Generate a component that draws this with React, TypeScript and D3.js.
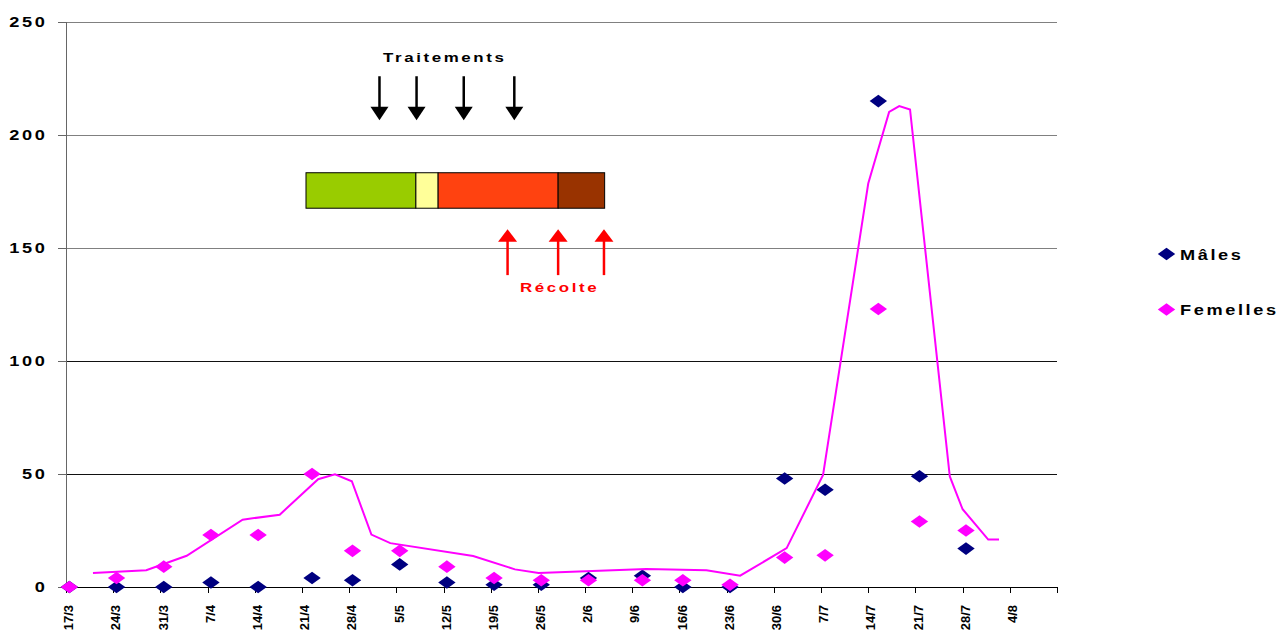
import React, { useEffect, useRef } from 'react';
import * as d3 from 'd3';

// week labels on the date axis (one tick per week from 17/3)
const weekLabels = ['17/3', '24/3', '31/3', '7/4', '14/4', '21/4', '28/4', '5/5', '12/5', '19/5', '26/5',
  '2/6', '9/6', '16/6', '23/6', '30/6', '7/7', '14/7', '21/7', '28/7', '4/8'];

// sampling dates, in days after 17/3
const sampleDays = [0.5, 7.5, 14.5, 21.5, 28.5, 36.5, 42.5, 49.5, 56.5, 63.5, 70.5, 77.5, 85.5, 91.5, 98.5,
  106.6, 112.6, 120.5, 126.6, 133.5];
const males = [0, 0, 0, 2, 0, 4, 3, 10, 2, 1, 1, 4, 5, 0, 0, 48, 43, 215, 49, 17];
const females = [0, 4, 9, 23, 23, 50, 16, 16, 9, 4, 3, 3, 3, 3, 1, 13, 14, 123, 29, 25];

// smoothed curve (days, value)
const trendDays = [4, 11.9, 17.9, 26.2, 31.7, 37.4, 39.9, 42.4, 45.3, 48.1, 60.4, 66.6, 70.1, 86.1, 95, 100,
  106.9, 112.3, 119, 122.1, 123.6, 125.2, 131.1, 133, 136.8, 138.4];
const trendValues = [6.2, 7.4, 13.8, 29.8, 32, 47.7, 49.9, 46.8, 23.2, 19.4, 13.7, 7.8, 6.2, 8, 7.4, 5,
  17.2, 49.6, 178.5, 210.2, 212.8, 211.3, 48.9, 34.4, 21, 21];

const yTicks = [0, 50, 100, 150, 200, 250];

// annotations
const treatmentDays = [46.5, 52, 59, 66.5];
const harvestDays = [65.5, 73, 79.8];
const stageBounds = [35.6, 51.9, 55.2, 73, 79.9];
const stageColors = ['#99CC00', '#FFFF99', '#FF4210', '#993300'];

const W = 1278;
const H = 631;
const FONT = "'Liberation Sans', Arial, sans-serif";

const App: React.FC = () => {
  const svgRef = useRef<SVGSVGElement>(null);

  useEffect(() => {
    if (!svgRef.current) return;
    const svg = d3.select(svgRef.current);
    svg.selectAll('*').remove();

    const x = d3.scaleLinear().domain([0, 147]).range([66, 1057]);
    const y = d3.scaleLinear().domain([0, 250]).range([587, 22]);

    // wide bold text like the original rendering
    const wideText = (px: number, py: number, str: string, size: number, anchor: string, color: string) => {
      svg.append('text')
        .attr('transform', `translate(${px},${py}) scale(1.3,1)`)
        .attr('text-anchor', anchor)
        .attr('font-family', FONT)
        .attr('font-weight', 'bold')
        .attr('font-size', size)
        .attr('letter-spacing', 2)
        .attr('fill', color)
        .text(str);
    };

    // gridlines
    svg.append('g')
      .selectAll('line')
      .data(yTicks.filter(v => v > 0))
      .join('line')
      .attr('x1', x(0))
      .attr('x2', x(147))
      .attr('y1', d => Math.round(y(d)) + 0.5)
      .attr('y2', d => Math.round(y(d)) + 0.5)
      .attr('stroke', d => (d >= 150 ? '#808080' : '#111'))
      .attr('stroke-width', 1);

    // y axis
    svg.append('line')
      .attr('x1', x(0) + 0.5).attr('x2', x(0) + 0.5)
      .attr('y1', y(250)).attr('y2', y(0))
      .attr('stroke', '#666');
    svg.append('g')
      .selectAll('line')
      .data(yTicks)
      .join('line')
      .attr('x1', x(0) - 8).attr('x2', x(0))
      .attr('y1', d => Math.round(y(d)) + 0.5)
      .attr('y2', d => Math.round(y(d)) + 0.5)
      .attr('stroke', '#666');
    yTicks.forEach(v => wideText(47.5, y(v) + 5, String(v), 14, 'end', '#000'));

    // x axis
    svg.append('line')
      .attr('x1', x(0)).attr('x2', x(147))
      .attr('y1', Math.round(y(0)) + 0.5).attr('y2', Math.round(y(0)) + 0.5)
      .attr('stroke', '#000');
    const weeks = d3.range(0, 22);
    svg.append('g')
      .selectAll('line')
      .data(weeks)
      .join('line')
      .attr('x1', d => Math.round(x(d * 7)) + 0.5)
      .attr('x2', d => Math.round(x(d * 7)) + 0.5)
      .attr('y1', y(0))
      .attr('y2', y(0) + 6)
      .attr('stroke', '#000');
    svg.append('g')
      .selectAll('text')
      .data(weekLabels)
      .join('text')
      .attr('transform', (d, i) => `translate(${x(i * 7) + 2.5},605) rotate(-90)`)
      .attr('text-anchor', 'end')
      .attr('dy', '0.36em')
      .attr('font-family', FONT)
      .attr('font-weight', 'bold')
      .attr('font-size', 13)
      .text(d => d);

    // phenology bar
    svg.append('g')
      .selectAll('rect')
      .data(stageColors)
      .join('rect')
      .attr('x', (d, i) => x(stageBounds[i]))
      .attr('width', (d, i) => x(stageBounds[i + 1]) - x(stageBounds[i]))
      .attr('y', y(183.3))
      .attr('height', y(167.6) - y(183.3))
      .attr('fill', d => d)
      .attr('stroke', '#000')
      .attr('stroke-width', 1);

    // treatment arrows
    const tArrows = svg.append('g');
    treatmentDays.forEach(d => {
      const cx = x(d);
      tArrows.append('line')
        .attr('x1', cx).attr('x2', cx)
        .attr('y1', y(226)).attr('y2', y(212))
        .attr('stroke', '#000').attr('stroke-width', 2.5);
      tArrows.append('path')
        .attr('d', `M${cx - 9},${y(212.5)}L${cx + 9},${y(212.5)}L${cx},${y(206.5)}Z`)
        .attr('fill', '#000');
    });
    wideText(383, 61.5, 'Traitements', 13, 'start', '#000');

    // harvest arrows
    const hArrows = svg.append('g');
    harvestDays.forEach(d => {
      const cx = x(d);
      hArrows.append('line')
        .attr('x1', cx).attr('x2', cx)
        .attr('y1', y(138)).attr('y2', y(153.5))
        .attr('stroke', '#FF0000').attr('stroke-width', 2.5);
      hArrows.append('path')
        .attr('d', `M${cx - 9.5},${y(152.8)}L${cx + 9.5},${y(152.8)}L${cx},${y(158.3)}Z`)
        .attr('fill', '#FF0000');
    });
    wideText(520, 292, 'Récolte', 13, 'start', '#FF0000');

    // diamonds
    const diamond = 'M0,-6.3L8.7,0L0,6.3L-8.7,0Z';
    svg.append('g')
      .selectAll('path')
      .data(males)
      .join('path')
      .attr('d', diamond)
      .attr('transform', (d, i) => `translate(${x(sampleDays[i])},${y(d)})`)
      .attr('fill', '#000080');
    svg.append('g')
      .selectAll('path')
      .data(females)
      .join('path')
      .attr('d', diamond)
      .attr('transform', (d, i) => `translate(${x(sampleDays[i])},${y(d)})`)
      .attr('fill', '#FF00FF');

    // trend line
    const line = d3.line<number>()
      .x((d, i) => x(trendDays[i]))
      .y(d => y(d));
    svg.append('path')
      .datum(trendValues)
      .attr('d', line)
      .attr('fill', 'none')
      .attr('stroke', '#FF00FF')
      .attr('stroke-width', 2);

    // legend
    const legend = [
      { name: 'Mâles', color: '#000080', cy: 254 },
      { name: 'Femelles', color: '#FF00FF', cy: 309.5 },
    ];
    legend.forEach(l => {
      svg.append('path')
        .attr('d', diamond)
        .attr('transform', `translate(1166.5,${l.cy})`)
        .attr('fill', l.color);
      wideText(1180, l.cy + 5.5, l.name, 14, 'start', '#000');
    });
  }, []);

  return (
    <svg
      ref={svgRef}
      width={W}
      height={H}
      style={{ position: 'absolute', left: 0, top: 0, background: '#fff' }}
    />
  );
};

export default App;
